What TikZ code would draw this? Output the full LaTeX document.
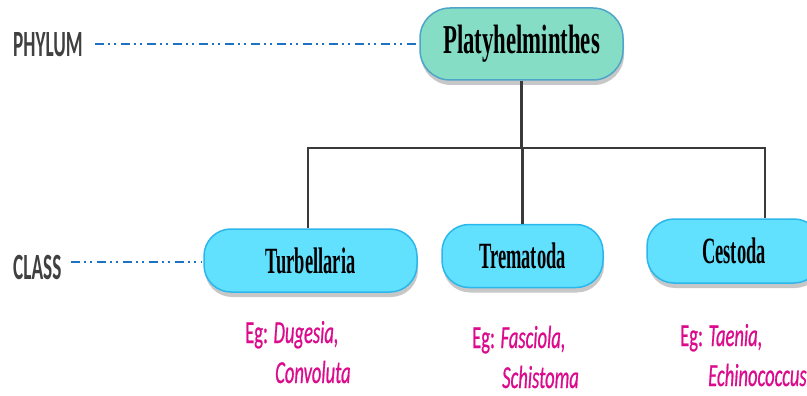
\documentclass[tikz,border=0pt]{standalone}
\usepackage{fontspec}
\usetikzlibrary{shadows}
\newfontfamily\labfont[FakeStretch=0.52]{Carlito}
\newfontfamily\platfont[FakeStretch=0.555]{Liberation Serif}
\newfontfamily\clsfont[FakeStretch=0.5]{Liberation Serif}
\newfontfamily\egfont[FakeStretch=0.58,FakeBold=0.6]{Carlito}
\definecolor{platfill}{HTML}{85DDC5}
\definecolor{platdraw}{HTML}{4FA5C9}
\definecolor{clsfill}{HTML}{62E1FF}
\definecolor{clsdraw}{HTML}{2BB6EC}
\definecolor{dashblue}{HTML}{1C73C4}
\definecolor{labgray}{HTML}{404040}
\definecolor{egmag}{HTML}{DC0A8C}
\definecolor{conn}{HTML}{3A3A3A}
\tikzset{
  boxshadow/.style={drop shadow={shadow xshift=1pt, shadow yshift=-5pt, fill=black, opacity=0.22}},
  platbox/.style={rectangle, rounded corners=30pt, fill=platfill, draw=platdraw, line width=1.5pt,
    minimum width=203pt, minimum height=72pt, inner sep=0pt, boxshadow,
    font=\platfont\bfseries\fontsize{41}{44}\selectfont},
  clsbox/.style={rectangle, rounded corners=27pt, fill=clsfill, draw=clsdraw, line width=1.5pt,
    minimum height=63pt, inner sep=0pt, boxshadow,
    font=\clsfont\bfseries\fontsize{37}{40}\selectfont},
  levellab/.style={anchor=base west, inner sep=0pt, text=labgray,
    font=\labfont\bfseries\fontsize{37}{40}\selectfont},
  dashline/.style={dashblue, line width=2.4pt,
    dash pattern=on 9pt off 4pt on 2pt off 4pt on 2pt off 5pt},
  eglab/.style={anchor=base west, inner sep=0pt, text=egmag,
    font=\egfont\fontsize{32}{35}\selectfont},
  connline/.style={conn, line width=2.4pt}
}
\begin{document}
\begin{tikzpicture}[x=1pt, y=-1pt]
\useasboundingbox (0,0) rectangle (807,396);
% nodes
\node[platbox] (plat) at (521.5,44) {Platyhelminthes};
\node[clsbox, minimum width=213pt] (turb) at (310.5,260.5) {Turbellaria};
\node[clsbox, minimum width=161pt] (trem) at (522.5,256) {Trematoda};
\node[clsbox, minimum width=174pt, minimum height=64pt] (cest) at (734,251) {Cestoda};
% level labels
\node[levellab] (phylum) at (13,57) {PHYLUM};
\node[levellab] (class) at (13,279) {CLASS};
\coordinate (pe) at (418,44);
\coordinate (ce) at (201,262);
\draw[dashline] (phylum.east |- pe) ++(12,0) coordinate (ps) -- (pe);
\draw[dashline] (class.east |- ce) ++(9,0) coordinate (cs) -- (ce);
% connectors
\coordinate (j) at (plat.south |- 0,148);
\draw[connline] (plat.south) -- (j);
\draw[connline] ([xshift=-2.5pt]turb.north) |- (j);
\draw[connline] (j) -| ([xshift=31pt]cest.north);
\draw[connline] (trem.north) -- (trem.north |- j);
% examples
\node[eglab] (eg1) at (245,343) {Eg: \textit{Dugesia,}};
\node[eglab] (eg1b) at (275,383) {\textit{Convoluta}};
\node[eglab] (eg2) at (472,348) {Eg: \textit{Fasciola,}};
\node[eglab] (eg2b) at (502,388) {\textit{Schistoma}};
\node[eglab] (eg3) at (680,346) {Eg: \textit{Taenia,}};
\node[eglab] (eg3b) at (708,386) {\textit{Echinococcus}};
\end{tikzpicture}
\end{document}
